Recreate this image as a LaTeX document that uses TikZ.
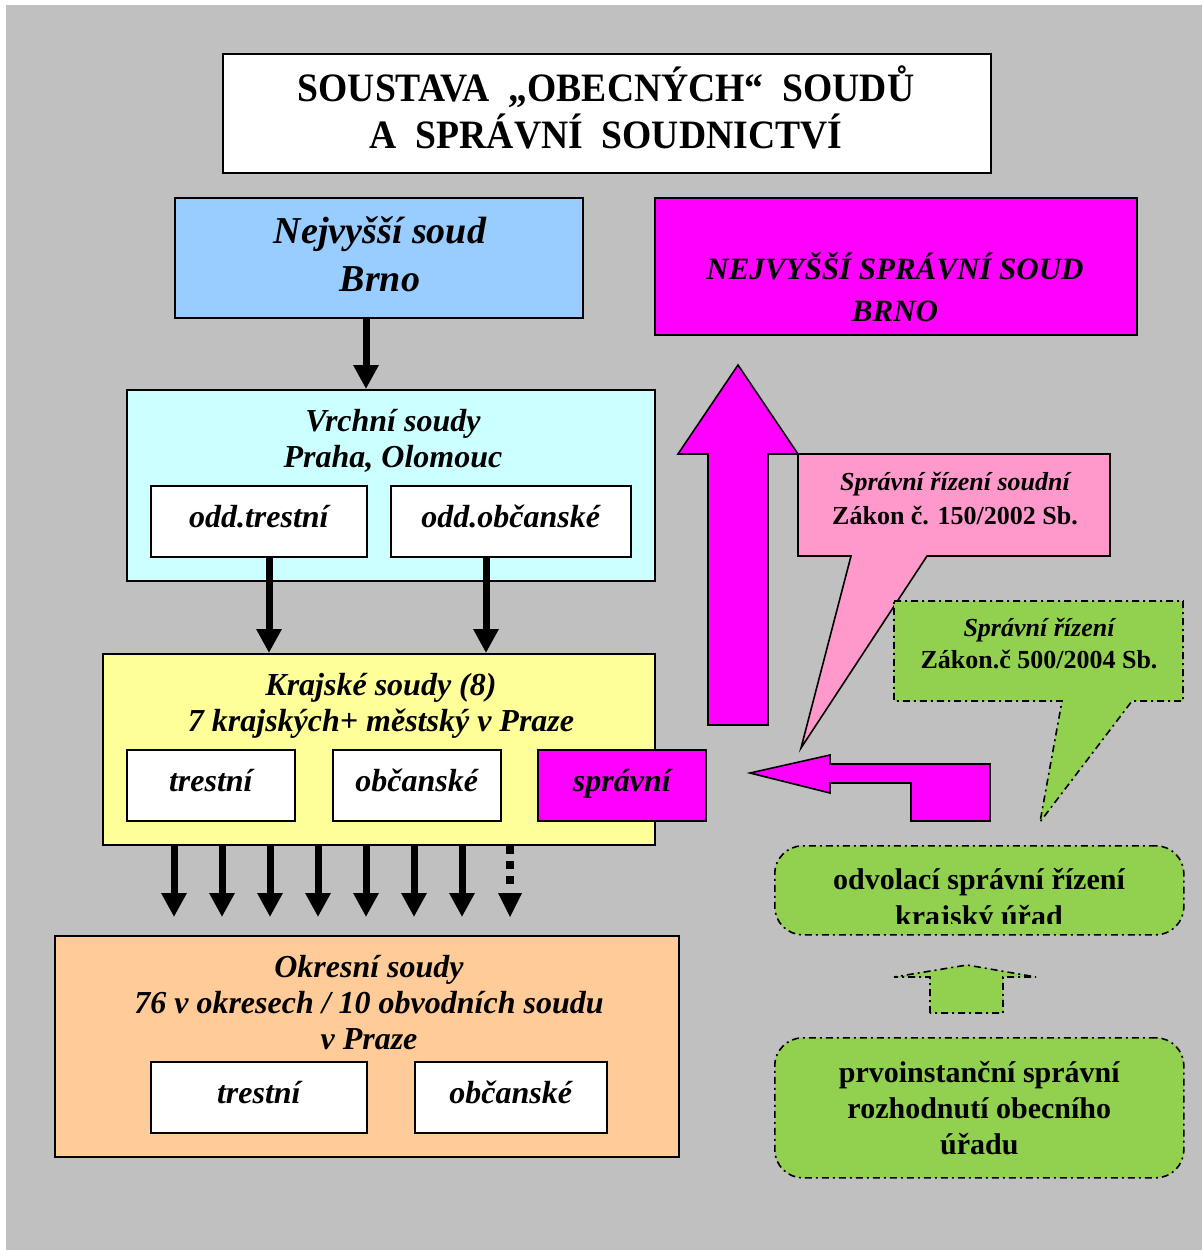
\documentclass[tikz,border=0pt]{standalone}
\usepackage{fontspec}
\setmainfont{Liberation Serif}
\usetikzlibrary{positioning,arrows.meta,calc}

\definecolor{pozadi}{HTML}{C0C0C0}
\definecolor{modra}{HTML}{99CCFF}
\definecolor{fialova}{HTML}{FF00FF}
\definecolor{tyrkys}{HTML}{CCFFFF}
\definecolor{zluta}{HTML}{FFFF99}
\definecolor{oranz}{HTML}{FFCC99}
\definecolor{ruzova}{HTML}{FF99CC}
\definecolor{zelena}{HTML}{92D050}

\newcommand{\vys}[1]{\scalebox{1.045}[1.12]{#1}}

\tikzset{
  soudbox/.style={draw, line width=1.6pt, anchor=north west, inner sep=0pt, align=center},
  bilybox/.style={soudbox, fill=white, minimum height=71pt, velky, text depth=10pt},
  carka/.style={line width=1.6pt, dash pattern=on 7pt off 4pt on 2pt off 4pt},
  zelbox/.style={soudbox, carka, fill=zelena, rounded corners=28pt},
  velky/.style={font=\fontsize{32}{36}\selectfont\bfseries\itshape, align=center},
  maly/.style={font=\fontsize{26}{34}\selectfont\bfseries, align=center},
  sipka/.style={line width=7pt, -{Triangle[width=24pt,length=24pt]}},
}

\begin{document}
\begin{tikzpicture}[x=1pt,y=-1pt]
\fill[pozadi] (6,5) rectangle (1202,1250);
\useasboundingbox (0,0) rectangle (1202,1250);

% nadpis
\node[soudbox, fill=white, minimum width=768pt, minimum height=119pt] (nadpis) at (222,53) {};
\node[font=\fontsize{36}{47}\selectfont\bfseries, align=center] (nadpistxt) at (606,107)
  {\vys{SOUSTAVA\ \ „OBECNÝCH“\ \ SOUDŮ}\\\vys{A\ \ SPRÁVNÍ\ \ SOUDNICTVÍ}};

% obecne soudy
\node[soudbox, fill=modra, minimum width=408pt, minimum height=120pt] (nsoud) at (174,197) {};
\node[font=\fontsize{38}{48}\selectfont\bfseries\itshape, align=center] (nsoudtxt) at (380,254)
  {Nejvyšší soud\\Brno};
\node[soudbox, fill=fialova, minimum width=482pt, minimum height=137pt] (nss) at (654,197) {};
\node[velky, font=\fontsize{31}{42}\selectfont\bfseries\itshape] (nsstxt) at (895,287)
  {NEJVYŠŠÍ SPRÁVNÍ SOUD\\BRNO};

\node[soudbox, fill=tyrkys, minimum width=528pt, minimum height=191pt] (vrchni) at (126,389) {};
\node[velky] (vrchnitxt) at (393,441) {Vrchní soudy\\Praha, Olomouc};
\node[bilybox, minimum width=216pt] (oddtr) at (150,485) {odd.trestní};
\node[bilybox, minimum width=240pt] (oddob) at (390,485) {odd.občanské};

\node[soudbox, fill=zluta, minimum width=552pt, minimum height=191pt] (krajske) at (102,653) {};
\node[velky] (krajtxt) at (381,706) {Krajské soudy (8)\\7 krajských+ městský v Praze};
\node[bilybox, minimum width=168pt] (kjtr) at (126,749) {trestní};
\node[bilybox, minimum width=168pt] (kjob) at (332,749) {občanské};
\node[bilybox, fill=fialova, minimum width=168pt] (kjspr) at (537,749) {správní};

\node[soudbox, fill=oranz, minimum width=624pt, minimum height=221pt] (okresni) at (54,935) {};
\node[velky] (okrestxt) at (369,1003) {Okresní soudy\\76 v okresech / 10 obvodních soudu\\v Praze};
\node[bilybox, minimum width=216pt] (oktr) at (150,1061) {trestní};
\node[bilybox, minimum width=192pt] (okob) at (414,1061) {občanské};

% sipky
\coordinate (a1) at (366,0);
\coordinate (a2) at (269,0);
\coordinate (a3) at (486,0);
\draw[sipka] (nsoud.south -| a1) -- (vrchni.north -| a1);
\draw[sipka] (oddtr.south -| a2) -- (krajske.north -| a2);
\draw[sipka] (oddob.south -| a3) -- (krajske.north -| a3);
\foreach \i in {0,...,7}
  \coordinate (k\i) at (174+48*\i,917);
\foreach \i in {0,...,6}
  \draw[sipka] (krajske.south -| k\i) -- (k\i);
% posledni sipka teckovane
\draw[line width=8pt, dash pattern=on 8pt off 7pt] (krajske.south -| k7) -- ++(0,42);
\fill ($(k7)+(-12,-24)$) -- ($(k7)+(12,-24)$) -- (k7) -- cycle;

% spravni soudnictvi
\draw[line width=1.6pt, fill=fialova] (708,725) -- (708,454) -- (678,454) -- (738,365)
  -- (798,454) -- (768,454) -- (768,725) -- cycle;
\draw[line width=1.6pt, fill=fialova] (750,773) -- (830,755) -- (830,764) -- (990,764)
  -- (990,821) -- (911,821) -- (911,783) -- (830,783) -- (830,793) -- cycle;

\draw[line width=1.6pt, fill=ruzova] (798,454) -- (1110,454) -- (1110,556) -- (927,556)
  -- (801,748) -- (851,556) -- (798,556) -- cycle;
\node[maly] (rizsoudtxt) at (955,499) {\itshape Správní řízení soudní\\Zákon č. 150/2002 Sb.};

\draw[carka, fill=zelena] (894,601) -- (1183,601) -- (1183,701) -- (1132,701)
  -- (1040,822) -- (1062,701) -- (894,701) -- cycle;
\node[maly, font=\fontsize{26}{32}\selectfont\bfseries] (rizentxt) at (1039,644)
  {\itshape Správní řízení\\Zákon.č 500/2004 Sb.};

\node[zelbox, minimum width=409pt, minimum height=89pt] (odvol) at (774,845) {};
\begin{scope}
  \clip (odvol.north west) rectangle ($(odvol.south east)+(0,-12)$);
  \node[font=\fontsize{30}{37}\selectfont\bfseries, align=center] (odvoltxt) at (979,901)
    {odvolací správní řízení\\krajský úřad};
\end{scope}

\draw[carka, fill=zelena] (930,1013) -- (930,977) -- (894,977) -- (967,965)
  -- (1036,977) -- (1003,977) -- (1003,1013) -- cycle;

\node[zelbox, minimum width=409pt, minimum height=140pt,
  font=\fontsize{30}{36}\selectfont\bfseries] (prvo) at (774,1037)
  {prvoinstanční správní\\rozhodnutí obecního\\úřadu};
\end{tikzpicture}
\end{document}
